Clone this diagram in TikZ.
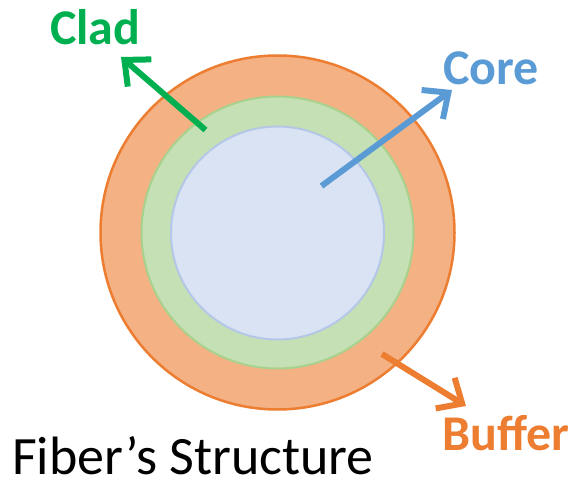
\documentclass[tikz,border=0pt]{standalone}
\usepackage{fontspec}
\setmainfont{Carlito}
\usetikzlibrary{arrows.meta}
\definecolor{bufferfill}{HTML}{F4B183}
\definecolor{bufferline}{HTML}{ED7D31}
\definecolor{cladfill}{HTML}{C5E0B4}
\definecolor{cladline}{HTML}{A9D18E}
\definecolor{corefill}{HTML}{DAE3F3}
\definecolor{coreline}{HTML}{B4C7E7}
\definecolor{cladtext}{HTML}{00B050}
\definecolor{coretext}{HTML}{5B9BD5}
\tikzset{
  ring/.style={circle, inner sep=0pt},
  lbl/.style={anchor=base west, inner sep=0pt, font=\fontsize{50}{50}\selectfont\bfseries},
  pointer/.style={line width=6pt, -{Straight Barb[length=20pt, width=36pt, line width=6pt]}}
}
\begin{document}
\begin{tikzpicture}[x=1pt,y=-1pt]
\useasboundingbox (0,0) rectangle (579,484);
\node[ring, fill=bufferfill, draw=bufferline, line width=2.5pt, minimum size=354pt] (buffer) at (277.5,232.5) {};
\node[ring, fill=cladfill, draw=cladline, line width=2pt, minimum size=272pt] (clad) at (277.5,232.5) {};
\node[ring, fill=corefill, draw=coreline, line width=2pt, minimum size=213pt] (core) at (277.5,233) {};
\node[lbl, text=cladtext] (cladlbl) at (50,45) {Clad};
\node[lbl, text=coretext] (corelbl) at (443,85) {Core};
\node[lbl, text=bufferline] (bufferlbl) at (442,450) {Buffer};
\node[anchor=base west, inner sep=0pt, text depth=0pt, font=\fontsize{54}{54}\selectfont] (title) at (12,474) {Fiber’s Structure};
\coordinate (cladA) at (205.5,130);
\coordinate (cladB) at (121,57);
\coordinate (coreA) at (321.5,186);
\coordinate (coreB) at (452,90);
\coordinate (bufA) at (382,354);
\coordinate (bufB) at (466,406);
\draw[pointer, cladtext] (cladA) -- (cladB);
\draw[pointer, coretext] (coreA) -- (coreB);
\draw[pointer, bufferline] (bufA) -- (bufB);
\end{tikzpicture}
\end{document}
